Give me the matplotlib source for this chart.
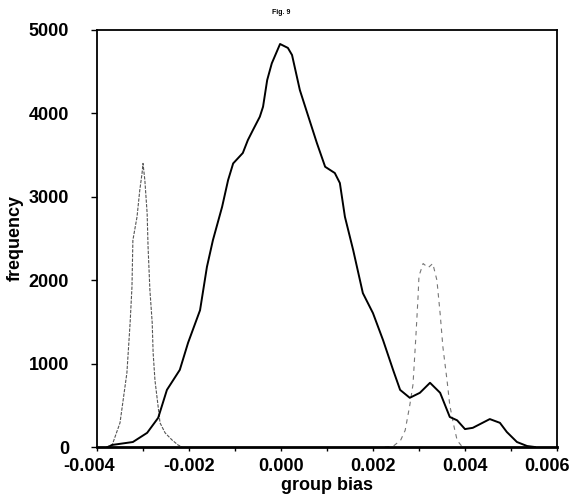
import matplotlib
matplotlib.use("Agg")
import matplotlib.pyplot as plt
import matplotlib.transforms as mtransforms

# Main (solid) distribution
main_x = [-0.00376, -0.00367, -0.00322, -0.00291, -0.00267, -0.00248, -0.00220, -0.00202,
          -0.00176, -0.00161, -0.00148, -0.00128, -0.00115, -0.00104, -0.00083, -0.00072,
          -0.00061, -0.00046, -0.00039, -0.00030, -0.00020, -0.00002, 0.00015, 0.00024,
          0.00041, 0.00057, 0.00078, 0.00096, 0.00117, 0.00128, 0.00139, 0.00157, 0.00178,
          0.00200, 0.00222, 0.00244, 0.00259, 0.00280, 0.00302, 0.00324, 0.00346, 0.00367,
          0.00383, 0.00400, 0.00417, 0.00454, 0.00476, 0.00491, 0.00513, 0.00535, 0.00552]
main_y = [0, 25, 60, 170, 350, 685, 925, 1250,
          1640, 2160, 2480, 2880, 3200, 3400, 3525, 3680,
          3800, 3960, 4080, 4400, 4600, 4832, 4785, 4700,
          4280, 4005, 3645, 3360, 3285, 3165, 2760, 2360, 1845,
          1605, 1280, 920, 685, 590, 650, 770, 650, 360,
          320, 215, 230, 335, 290, 180, 60, 12, 0]

# Left narrow (dashed) distribution
left_x = [-0.00380, -0.00367, -0.00350, -0.00335, -0.00328, -0.00324, -0.00322, -0.00313,
          -0.00307, -0.00302, -0.00300, -0.00296, -0.00291, -0.00289, -0.00285, -0.00280,
          -0.00278, -0.00274, -0.00267, -0.00263, -0.00252, -0.00237, -0.00224, -0.00215]
left_y = [0, 25, 290, 890, 1490, 1920, 2480, 2760,
          3080, 3285, 3400, 3200, 2800, 2400, 1880, 1490,
          1130, 800, 480, 290, 170, 85, 25, 0]

# Right narrow (dashed) distribution
right_x = [0.00226, 0.00244, 0.00260, 0.00270, 0.00280, 0.00287, 0.00293, 0.00298, 0.00300,
           0.00309, 0.00320, 0.00330, 0.00339, 0.00346, 0.00352, 0.00361, 0.00367, 0.00376,
           0.00383, 0.00393, 0.00400]
right_y = [0, 10, 80, 200, 500, 750, 1300, 1800, 2050,
           2200, 2150, 2200, 2000, 1600, 1200, 800, 500, 250,
           80, 10, 0]

x_ticks = [-0.004, -0.002, 0.000, 0.002, 0.004, 0.006]
x_tick_labels = ["-0.004", "-0.002", "0.000", "0.002", "0.004", "0.006"]
y_ticks = [0, 1000, 2000, 3000, 4000, 5000]
y_tick_labels = ["0", "1000", "2000", "3000", "4000", "5000"]

FONT = ["Liberation Sans", "DejaVu Sans"]

fig = plt.figure(figsize=(5.73, 5.03), dpi=100)
ax = fig.add_axes([0.1693, 0.1113, 0.8027, 0.8291])

ax.plot(left_x, left_y, color="#555555", lw=0.8, linestyle=(0, (3, 1.2)))
ax.plot(right_x, right_y, color="#777777", lw=0.8, linestyle=(0, (4, 4)))
ax.plot(main_x, main_y, color="black", lw=1.4)

ax.set_xlim(-0.004, 0.006)
ax.set_ylim(0, 5000)
ax.set_xticks(x_ticks)
ax.set_xticklabels(x_tick_labels, fontfamily=FONT, fontweight="bold", fontsize=13)
ax.set_xticks([-0.003, -0.001, 0.001, 0.003, 0.005], minor=True)
ax.set_yticks(y_ticks)
ax.set_yticklabels(y_tick_labels, fontfamily=FONT, fontweight="bold", fontsize=13)
ax.tick_params(axis="x", which="both", direction="out", length=3, width=1, pad=5)
ax.tick_params(axis="y", direction="out", length=4, width=1, pad=16)

# shift the last x tick label left so it fits inside the figure (as in the original)
last = ax.get_xticklabels()[-1]
last.set_transform(last.get_transform() +
                   mtransforms.ScaledTranslation(-10 / 100, 0, fig.dpi_scale_trans))
first = ax.get_xticklabels()[0]
first.set_transform(first.get_transform() +
                    mtransforms.ScaledTranslation(-8 / 100, 0, fig.dpi_scale_trans))

for s in ax.spines.values():
    s.set_linewidth(1.3)
ax.spines["bottom"].set_linewidth(2)

ax.set_xlabel("group bias", fontfamily=FONT, fontweight="bold", fontsize=13, labelpad=1)
ax.set_ylabel("frequency", fontfamily=FONT, fontweight="bold", fontsize=13, labelpad=4)

fig.text(0.49, 0.975, "Fig. 9", ha="center", va="center", fontsize=5,
         fontweight="bold", family=FONT)

fig.savefig("out.png", dpi=100)
